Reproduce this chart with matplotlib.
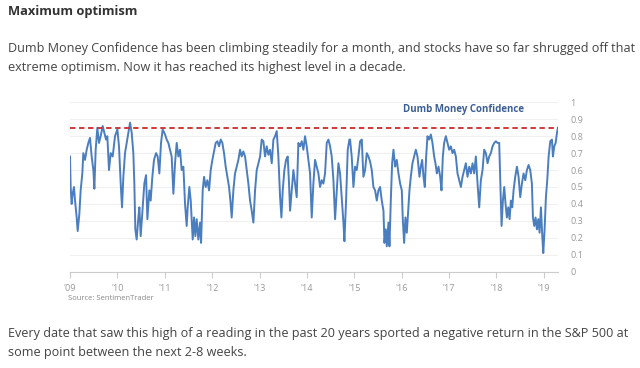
import matplotlib
matplotlib.use("Agg")
import matplotlib.pyplot as plt

plt.rcParams["font.family"] = ["Open Sans", "DejaVu Sans"]

title = "Maximum optimism"
intro = ("Dumb Money Confidence has been climbing steadily for a month, and stocks have so far shrugged off that\n"
         "extreme optimism. Now it has reached its highest level in a decade.")
outro = ("Every date that saw this high of a reading in the past 20 years sported a negative return in the S&P 500 at\n"
         "some point between the next 2-8 weeks.")
series_name = "Dumb Money Confidence"
source = "Source: SentimenTrader"
extreme_level = 0.846

year_ticks = [2009, 2010, 2011, 2012, 2013, 2014, 2015, 2016, 2017, 2018, 2019]
year_labels = ["'09", "'10", "'11", "'12", "'13", "'14", "'15", "'16", "'17", "'18", "'19"]

# decimal year, reading
dates = [
    2009.000, 2009.014, 2009.035, 2009.056, 2009.084, 2009.106, 2009.141, 2009.162, 2009.197, 2009.225,
    2009.260, 2009.281, 2009.317, 2009.352, 2009.387, 2009.422, 2009.457, 2009.493, 2009.514, 2009.542,
    2009.577, 2009.612, 2009.647, 2009.690, 2009.725, 2009.760, 2009.788, 2009.823, 2009.859, 2009.901,
    2009.950, 2010.000, 2010.034, 2010.070, 2010.098, 2010.126, 2010.161, 2010.196, 2010.231, 2010.267,
    2010.302, 2010.337, 2010.358, 2010.379, 2010.407, 2010.443, 2010.464, 2010.492, 2010.534, 2010.569,
    2010.605, 2010.633, 2010.675, 2010.703, 2010.738, 2010.773, 2010.816, 2010.851, 2010.886, 2010.921,
    2010.956, 2011.006, 2011.041, 2011.076, 2011.111, 2011.146, 2011.182, 2011.217, 2011.252, 2011.287,
    2011.322, 2011.357, 2011.393, 2011.428, 2011.463, 2011.484, 2011.519, 2011.548, 2011.590, 2011.618,
    2011.646, 2011.674, 2011.709, 2011.745, 2011.766, 2011.801, 2011.829, 2011.864, 2011.899, 2011.935,
    2011.970, 2012.005, 2012.040, 2012.075, 2012.111, 2012.146, 2012.181, 2012.216, 2012.251, 2012.286,
    2012.322, 2012.357, 2012.385, 2012.413, 2012.448, 2012.483, 2012.519, 2012.554, 2012.589, 2012.624,
    2012.659, 2012.695, 2012.730, 2012.765, 2012.800, 2012.835, 2012.871, 2012.906, 2012.941, 2012.976,
    2013.012, 2013.046, 2013.082, 2013.117, 2013.152, 2013.187, 2013.222, 2013.258, 2013.293, 2013.328,
    2013.363, 2013.398, 2013.434, 2013.462, 2013.490, 2013.525, 2013.560, 2013.595, 2013.623, 2013.645,
    2013.680, 2013.715, 2013.750, 2013.785, 2013.820, 2013.856, 2013.891, 2013.926, 2013.961, 2013.996,
    2014.032, 2014.067, 2014.102, 2014.137, 2014.172, 2014.208, 2014.243, 2014.278, 2014.313, 2014.348,
    2014.383, 2014.419, 2014.454, 2014.489, 2014.524, 2014.560, 2014.595, 2014.630, 2014.665, 2014.700,
    2014.735, 2014.771, 2014.792, 2014.827, 2014.862, 2014.897, 2014.911, 2014.946, 2014.982, 2015.017,
    2015.052, 2015.088, 2015.123, 2015.158, 2015.193, 2015.228, 2015.264, 2015.299, 2015.334, 2015.369,
    2015.404, 2015.440, 2015.475, 2015.510, 2015.545, 2015.580, 2015.616, 2015.637, 2015.665, 2015.686,
    2015.721, 2015.743, 2015.771, 2015.799, 2015.827, 2015.862, 2015.897, 2015.933, 2015.968, 2016.003,
    2016.024, 2016.052, 2016.080, 2016.109, 2016.137, 2016.165, 2016.193, 2016.228, 2016.264, 2016.299,
    2016.334, 2016.355, 2016.376, 2016.404, 2016.433, 2016.461, 2016.489, 2016.517, 2016.545, 2016.580,
    2016.616, 2016.651, 2016.686, 2016.714, 2016.743, 2016.778, 2016.813, 2016.841, 2016.869, 2016.897,
    2016.933, 2016.968, 2017.003, 2017.038, 2017.074, 2017.109, 2017.144, 2017.179, 2017.214, 2017.250,
    2017.285, 2017.320, 2017.355, 2017.390, 2017.426, 2017.461, 2017.496, 2017.531, 2017.566, 2017.602,
    2017.637, 2017.672, 2017.707, 2017.742, 2017.778, 2017.813, 2017.848, 2017.883, 2017.918, 2017.954,
    2017.989, 2018.024, 2018.059, 2018.080, 2018.109, 2018.137, 2018.165, 2018.193, 2018.221, 2018.250,
    2018.278, 2018.306, 2018.334, 2018.362, 2018.397, 2018.433, 2018.468, 2018.503, 2018.538, 2018.573,
    2018.609, 2018.644, 2018.679, 2018.714, 2018.749, 2018.771, 2018.799, 2018.827, 2018.855, 2018.883,
    2018.911, 2018.940, 2018.968, 2018.989, 2019.017, 2019.045, 2019.073, 2019.102, 2019.137, 2019.172,
    2019.193, 2019.221, 2019.250, 2019.278, 2019.299,
]
confidence = [
    0.68, 0.50, 0.40, 0.46, 0.50, 0.42, 0.32, 0.24, 0.34, 0.48,
    0.58, 0.70, 0.66, 0.72, 0.76, 0.79, 0.68, 0.60, 0.49, 0.72,
    0.85, 0.76, 0.80, 0.86, 0.82, 0.78, 0.80, 0.60, 0.70, 0.68,
    0.80, 0.84, 0.74, 0.52, 0.38, 0.56, 0.70, 0.76, 0.82, 0.88,
    0.82, 0.70, 0.52, 0.25, 0.19, 0.32, 0.38, 0.21, 0.38, 0.52,
    0.57, 0.31, 0.48, 0.42, 0.56, 0.66, 0.70, 0.68, 0.58, 0.76,
    0.84, 0.81, 0.78, 0.76, 0.72, 0.68, 0.46, 0.64, 0.76, 0.68,
    0.72, 0.60, 0.62, 0.40, 0.27, 0.38, 0.50, 0.42, 0.19, 0.32,
    0.21, 0.31, 0.19, 0.29, 0.17, 0.48, 0.56, 0.50, 0.54, 0.48,
    0.60, 0.66, 0.71, 0.76, 0.77, 0.74, 0.78, 0.76, 0.70, 0.62,
    0.56, 0.50, 0.42, 0.32, 0.48, 0.58, 0.62, 0.66, 0.72, 0.68,
    0.71, 0.68, 0.60, 0.52, 0.42, 0.36, 0.29, 0.48, 0.60, 0.64,
    0.68, 0.78, 0.77, 0.68, 0.74, 0.69, 0.72, 0.64, 0.78, 0.80,
    0.83, 0.68, 0.44, 0.32, 0.48, 0.60, 0.66, 0.68, 0.52, 0.36,
    0.48, 0.60, 0.52, 0.44, 0.76, 0.74, 0.77, 0.72, 0.80, 0.74,
    0.66, 0.58, 0.32, 0.52, 0.66, 0.62, 0.58, 0.50, 0.54, 0.52,
    0.58, 0.76, 0.78, 0.74, 0.68, 0.54, 0.31, 0.48, 0.64, 0.58,
    0.44, 0.29, 0.18, 0.42, 0.72, 0.78, 0.78, 0.68, 0.50, 0.62,
    0.60, 0.68, 0.77, 0.78, 0.56, 0.60, 0.70, 0.68, 0.65, 0.60,
    0.50, 0.48, 0.42, 0.48, 0.50, 0.42, 0.36, 0.17, 0.25, 0.15,
    0.29, 0.15, 0.42, 0.64, 0.72, 0.62, 0.66, 0.58, 0.52, 0.48,
    0.31, 0.17, 0.32, 0.23, 0.36, 0.48, 0.56, 0.64, 0.68, 0.72,
    0.68, 0.62, 0.56, 0.62, 0.66, 0.56, 0.50, 0.68, 0.80, 0.78,
    0.81, 0.76, 0.68, 0.64, 0.58, 0.62, 0.56, 0.48, 0.68, 0.76,
    0.80, 0.76, 0.72, 0.74, 0.70, 0.72, 0.68, 0.58, 0.54, 0.50,
    0.56, 0.60, 0.64, 0.56, 0.62, 0.58, 0.64, 0.58, 0.68, 0.52,
    0.38, 0.54, 0.60, 0.72, 0.70, 0.64, 0.68, 0.70, 0.74, 0.76,
    0.77, 0.76, 0.76, 0.56, 0.27, 0.42, 0.50, 0.40, 0.32, 0.38,
    0.31, 0.42, 0.38, 0.48, 0.56, 0.62, 0.56, 0.44, 0.52, 0.58,
    0.54, 0.60, 0.63, 0.60, 0.52, 0.32, 0.27, 0.32, 0.25, 0.31,
    0.23, 0.38, 0.21, 0.11, 0.25, 0.44, 0.54, 0.68, 0.77, 0.78,
    0.68, 0.74, 0.76, 0.82, 0.85,
]

fig = plt.figure(figsize=(6.4, 3.68), dpi=100)
fig.text(8 / 640, 1 - 12 / 368, title, fontsize=9.3, fontweight="bold", color="#333333", va="center")
fig.text(8 / 640, 1 - 58 / 368, intro, fontsize=9.1, color="#444444", va="center", linespacing=1.6)
fig.text(8 / 640, 1 - 343 / 368, outro, fontsize=9.1, color="#444444", va="center", linespacing=1.6)
fig.text(68 / 640, 1 - 298 / 368, source, fontsize=5.5, color="#888888", va="center")

ax = fig.add_axes([70 / 640, 96.3 / 368, 488 / 640, 169.4 / 368])
ax.plot(dates, confidence, color="#4a7ebf", linewidth=1.4, zorder=3)
ax.axhline(extreme_level, color="#cc2b2b", linestyle=(0, (3, 2)), linewidth=1.3, zorder=4)

ax.set_xlim(2009.0, 2019.3)
ax.set_ylim(0, 1)
ax.set_yticks([i / 10 for i in range(11)])
ax.set_yticklabels(["0", "0.1", "0.2", "0.3", "0.4", "0.5", "0.6", "0.7", "0.8", "0.9", "1"])
ax.yaxis.tick_right()
ax.tick_params(axis="y", length=0, labelsize=6.5, labelcolor="#999999", pad=9)
ax.set_xticks(year_ticks)
ax.set_xticklabels(year_labels)
ax.tick_params(axis="x", length=4, color="#cccccc", labelsize=6.5, labelcolor="#999999", pad=5)
ax.grid(axis="y", color="#f0f0f0", linewidth=0.8)
for side in ["top", "right", "left"]:
    ax.spines[side].set_visible(False)
ax.spines["bottom"].set_color("#cccccc")

ax.text(0.807, 0.955, series_name, transform=ax.transAxes, fontsize=7, fontweight="bold",
        color="#3d5f96", ha="center", va="center")

fig.savefig("out.png", dpi=100)
